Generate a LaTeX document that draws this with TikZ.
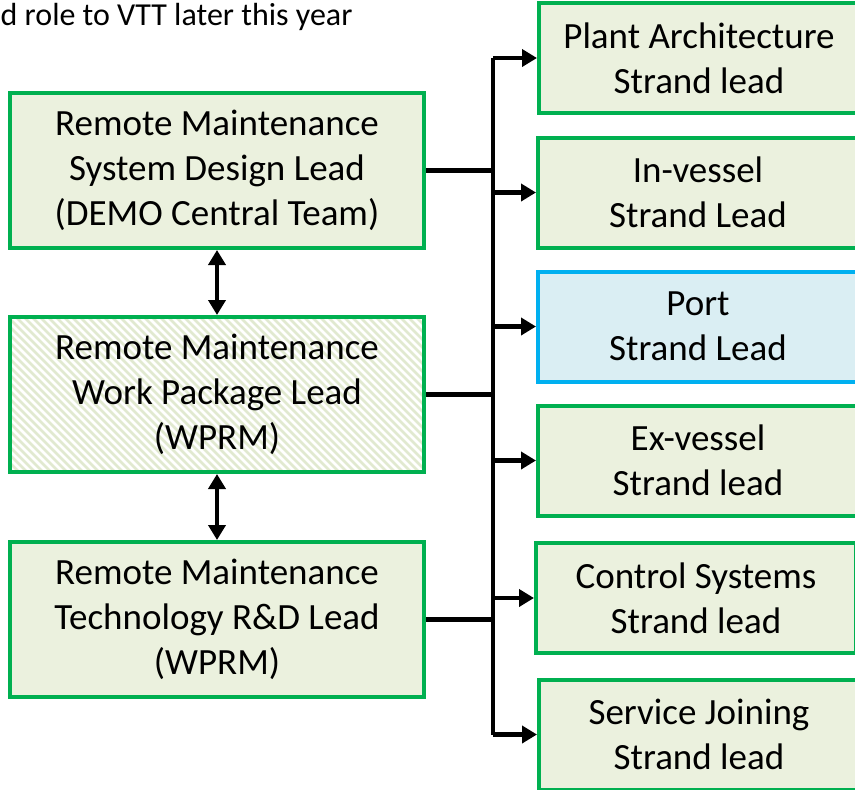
\documentclass[tikz,border=0pt]{standalone}
\usepackage{fontspec}
\setmainfont{Carlito}
\usetikzlibrary{arrows.meta,calc}
\definecolor{bordgreen}{HTML}{00B050}
\definecolor{fillgreen}{HTML}{EBF1DE}
\definecolor{bordblue}{HTML}{00B0F0}
\definecolor{fillblue}{HTML}{DAEEF3}
\definecolor{hatchc}{HTML}{E1E9D0}
\tikzset{
  box/.style={draw=bordgreen, fill=fillgreen, line width=4pt, align=center, inner sep=0pt,
    font=\fontsize{37}{45}\selectfont},
  leftbox/.style={box, minimum width=414pt, minimum height=155pt},
  rightbox/.style={box, minimum width=320pt, minimum height=110pt},
  conn/.style={line width=4.5pt, black},
  arr/.style={conn, -{Triangle[length=15pt,width=17pt]}},
  darr/.style={conn, {Triangle[length=15pt,width=17pt]}-{Triangle[length=15pt,width=17pt]}},
}
\begin{document}
\begin{tikzpicture}[x=1pt,y=-1pt]
\useasboundingbox (0,0) rectangle (855,790);
\clip (0,0) rectangle (855,790);
\node[anchor=base west, inner sep=0pt, font=\fontsize{32}{38}\selectfont] (note) at (0.5,25) {d role to VTT later this year};

\node[leftbox] (sd) at (217,170.5) {Remote Maintenance\\System Design Lead\\(DEMO Central Team)};
\node[leftbox, fill=white, path picture={
  \foreach \k in {0,...,80}{
    \draw[hatchc, line width=2.6pt] ([xshift=\k*8pt-170pt]path picture bounding box.north west) -- ++(170pt,-170pt);
  }}] (wp) at (217,394.5) {Remote Maintenance\\Work Package Lead\\(WPRM)};
\node[leftbox] (rd) at (217,619.5) {Remote Maintenance\\Technology R\&D Lead\\(WPRM)};

\node[rightbox] (pa) at (699,58) {Plant Architecture\\Strand lead};
\node[rightbox] (iv) at (698,192.5) {In-vessel\\Strand Lead};
\node[rightbox, draw=bordblue, fill=fillblue] (po) at (698,326.5) {Port\\Strand Lead};
\node[rightbox] (ev) at (698,460.5) {Ex-vessel\\Strand lead};
\node[rightbox] (cs) at (696,598) {Control Systems\\Strand lead};
\node[rightbox] (sj) at (699,734.5) {Service Joining\\Strand lead};

\coordinate (bt) at (493,58);
\coordinate (bb) at (493,734.5);
\draw[conn] (bt) -- (bb);
\draw[arr] (bt) -- (pa.west);
\foreach \n in {iv,po,ev,cs,sj}{
  \draw[arr] (\n.west -| bt) -- (\n.west);
}
\foreach \n in {sd,wp,rd}{
  \draw[conn] (\n.east) -- (\n.east -| bt);
}
\draw[darr] (sd.south) -- (wp.north);
\draw[darr] (wp.south) -- (rd.north);
\end{tikzpicture}
\end{document}
